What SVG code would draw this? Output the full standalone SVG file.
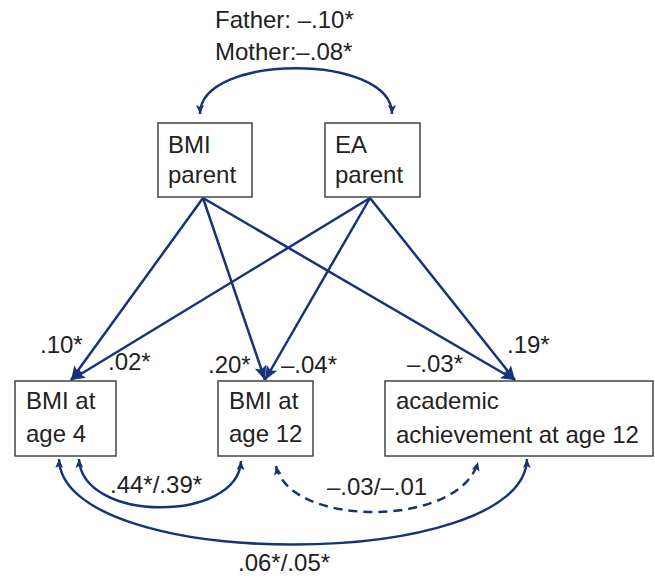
<svg xmlns="http://www.w3.org/2000/svg" width="655" height="578" viewBox="0 0 655 578">
<style>
  .box { fill: #ffffff; stroke: #444444; stroke-width: 1.5; }
  .t { font-family: "Liberation Sans", Arial, sans-serif; font-size: 24px; fill: #222222; }
  .path { fill: none; stroke: #16337a; stroke-width: 2.5; }
  .arr { marker-end: url(#big); }
  .dbl { marker-start: url(#small); marker-end: url(#small); }
  .dash { stroke-dasharray: 9 6; }
</style>
<defs>
  <marker id="big" markerUnits="userSpaceOnUse" markerWidth="16" markerHeight="12" refX="14" refY="6" orient="auto">
    <path d="M0,0 L14,6 L0,12 L3,6 Z" fill="#16337a"/>
  </marker>
  <marker id="small" markerUnits="userSpaceOnUse" markerWidth="10" markerHeight="8" refX="9" refY="4" orient="auto-start-reverse">
    <path d="M0,0 L9,4 L0,8 L2,4 Z" fill="#16337a"/>
  </marker>
</defs>
<rect width="655" height="578" fill="#ffffff"/>

<g id="connectors">
  <path class="path dbl" d="M200,114 C200,53 392,53 392,114"/>
  <line class="path arr" x1="203" y1="198" x2="71" y2="380"/>
  <line class="path arr" x1="203" y1="198" x2="265" y2="380"/>
  <line class="path arr" x1="203" y1="198" x2="515" y2="380"/>
  <line class="path arr" x1="370" y1="198" x2="71" y2="380"/>
  <line class="path arr" x1="370" y1="198" x2="265" y2="380"/>
  <line class="path arr" x1="370" y1="198" x2="515" y2="380"/>
  <path class="path dbl" d="M79,459 C82,523 238,523 241,461"/>
  <path class="path dbl dash" d="M276,466 C290,528 460,528 478,462"/>
  <path class="path dbl" d="M59,459 C62,573 524,573 527,459"/>
</g>

<g id="labels">
  <text class="t" x="215" y="28">Father: –.10*</text>
  <text class="t" x="215" y="60">Mother:–.08*</text>
  <text class="t" x="40" y="353">.10*</text>
  <text class="t" x="108" y="370">.02*</text>
  <text class="t" x="208" y="373">.20*</text>
  <text class="t" x="281" y="373">–.04*</text>
  <text class="t" x="407" y="372">–.03*</text>
  <text class="t" x="507" y="353">.19*</text>
  <text class="t" x="110" y="493">.44*/.39*</text>
  <text class="t" x="327" y="495">–.03/–.01</text>
  <text class="t" x="238" y="571">.06*/.05*</text>
</g>

<g id="bmi-parent">
  <rect class="box" x="158" y="123" width="94" height="74"/>
  <text class="t" x="168" y="153">BMI</text>
  <text class="t" x="168" y="183">parent</text>
</g>
<g id="ea-parent">
  <rect class="box" x="325" y="123" width="95" height="74"/>
  <text class="t" x="335" y="153">EA</text>
  <text class="t" x="335" y="183">parent</text>
</g>
<g id="bmi-age4">
  <rect class="box" x="15" y="381" width="101" height="75"/>
  <text class="t" x="26" y="409">BMI at</text>
  <text class="t" x="26" y="442">age 4</text>
</g>
<g id="bmi-age12">
  <rect class="box" x="218" y="381" width="95" height="75"/>
  <text class="t" x="229" y="409">BMI at</text>
  <text class="t" x="229" y="442">age 12</text>
</g>
<g id="academic">
  <rect class="box" x="385" y="381" width="268" height="75"/>
  <text class="t" x="396" y="409">academic</text>
  <text class="t" x="396" y="443">achievement at age 12</text>
</g>
</svg>
